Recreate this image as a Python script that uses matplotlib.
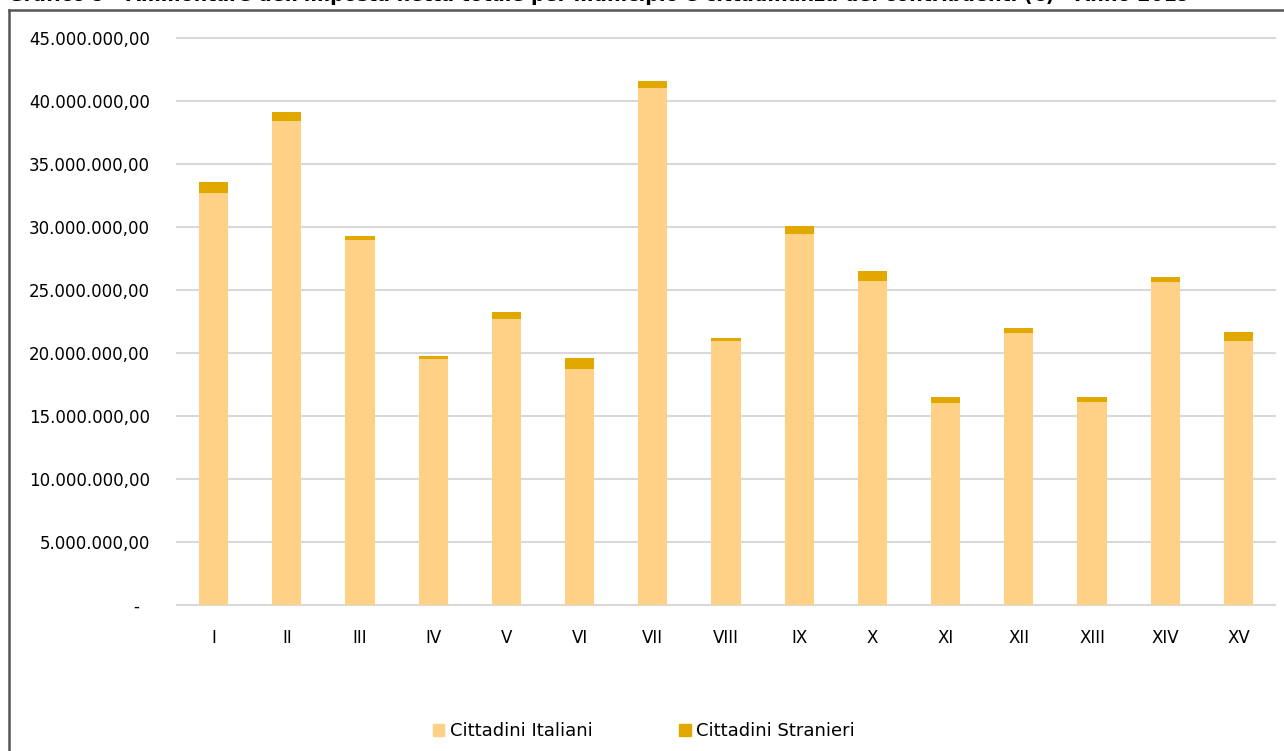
import matplotlib.pyplot as plt
from matplotlib.lines import Line2D
from matplotlib.patches import Patch
from matplotlib.ticker import FuncFormatter, MultipleLocator
import numpy as np

municipi = ["I", "II", "III", "IV", "V", "VI", "VII", "VIII",
            "IX", "X", "XI", "XII", "XIII", "XIV", "XV"]
italiani = [32.67, 38.44, 28.97, 19.52, 22.72, 18.73, 41.03, 20.93,
            29.47, 25.71, 16.03, 21.59, 16.11, 25.61, 20.95]
stranieri = [0.90, 0.71, 0.32, 0.27, 0.53, 0.87, 0.56, 0.26,
             0.61, 0.77, 0.48, 0.40, 0.37, 0.45, 0.72]
italiani = np.array(italiani) * 1e6
stranieri = np.array(stranieri) * 1e6

col_ita = "#FFD186"
col_str = "#E1A900"


def fmt_it(v, pos):
    if v == 0:
        return "-  "
    s = f"{v:,.2f}"
    return s.replace(",", "X").replace(".", ",").replace("X", ".")


fig = plt.figure(figsize=(12.84, 7.51), dpi=100)
ax = fig.add_axes([177 / 1284, 1 - 605 / 751, (1275 - 177) / 1284, (605 - 38) / 751])

x = np.arange(len(municipi))
ax.bar(x, italiani, width=0.4, color=col_ita, zorder=3)
ax.bar(x, stranieri, width=0.4, bottom=italiani, color=col_str, zorder=3)

ax.set_xlim(-0.5, len(municipi) - 0.5)
ax.set_ylim(0, 45e6)
ax.yaxis.set_major_locator(MultipleLocator(5e6))
ax.yaxis.set_major_formatter(FuncFormatter(fmt_it))
ax.grid(axis="y", color="#d9d9d9", linewidth=1.5, zorder=0)
for gl in ax.get_ygridlines():
    gl.set_clip_on(False)
ax.set_xticks(x)
ax.set_xticklabels(municipi)
ax.tick_params(axis="both", length=0, labelsize=12, colors="black")
ax.tick_params(axis="y", pad=19.5)
ax.tick_params(axis="x", pad=17)
for s in ax.spines.values():
    s.set_visible(False)

handles = [Patch(color=col_ita, label="Cittadini Italiani"),
           Patch(color=col_str, label="Cittadini Stranieri")]
fig.legend(handles=handles, loc="center", bbox_to_anchor=(644 / 1284, 1 - 731 / 751),
           ncol=2, frameon=False, fontsize=13, handlelength=0.65, handleheight=0.65,
           handletextpad=0.3, columnspacing=4.8)

# titolo tagliato in alto, come nell'originale
fig.text(8 / 1284, 1 - 0.8 / 751,
         "Grafico 9 - Ammontare dell'imposta netta totale per municipio e cittadinanza "
         "dei contribuenti (€) - Anno 2019",
         fontsize=13.7, fontweight="bold", ha="left", va="baseline")

# cornice del grafico
fig.add_artist(Line2D([9 / 1284, 9 / 1284], [0, 1 - 10 / 751], color="#555555", lw=1.8))
fig.add_artist(Line2D([9 / 1284, 1], [1 - 10 / 751, 1 - 10 / 751], color="#555555", lw=1.8))

fig.savefig("out.png", dpi=100)
